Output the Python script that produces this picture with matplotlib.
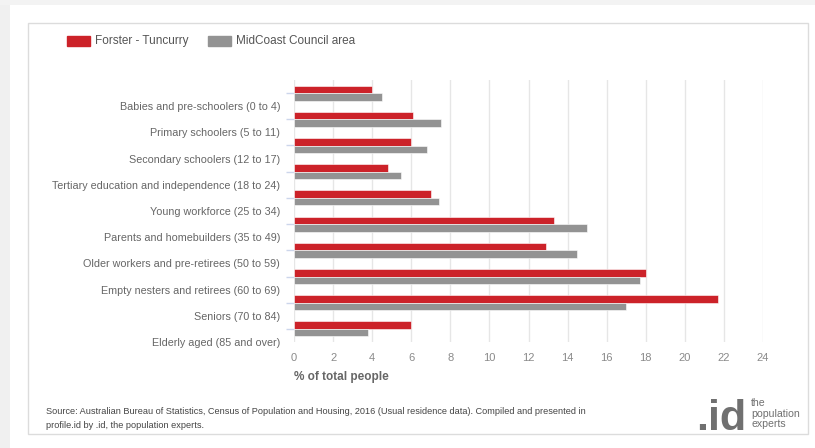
import matplotlib
matplotlib.use("Agg")
import matplotlib.pyplot as plt
from matplotlib.patches import Rectangle
import numpy as np

# ===== data =====
categories = [
    "Babies and pre-schoolers (0 to 4)",
    "Primary schoolers (5 to 11)",
    "Secondary schoolers (12 to 17)",
    "Tertiary education and independence (18 to 24)",
    "Young workforce (25 to 34)",
    "Parents and homebuilders (35 to 49)",
    "Older workers and pre-retirees (50 to 59)",
    "Empty nesters and retirees (60 to 69)",
    "Seniors (70 to 84)",
    "Elderly aged (85 and over)",
]
forster = [4.0, 6.1, 6.0, 4.8, 7.0, 13.3, 12.9, 18.0, 21.7, 6.0]
midcoast = [4.5, 7.5, 6.8, 5.5, 7.4, 15.0, 14.5, 17.7, 17.0, 3.8]
series_names = ["Forster - Tuncurry", "MidCoast Council area"]
x_ticks = list(range(0, 25, 2))

RED = "#cc2229"
GREY = "#939393"
plt.rcParams['font.family'] = ['Liberation Sans', 'DejaVu Sans']

W, H = 815, 448
fig = plt.figure(figsize=(W / 100, H / 100), dpi=100)
fig.patch.set_facecolor("white")

# card frame / shadow (behind the axes)
fig.add_artist(Rectangle((0, 0), 10 / W, 1 - 5 / H, transform=fig.transFigure,
                         facecolor="#f0f0f0", edgecolor="none", zorder=-5))
fig.add_artist(Rectangle((0, 1 - 5 / H), 1, 5 / H, transform=fig.transFigure,
                         facecolor="#f3f3f3", edgecolor="none", zorder=-5))
fig.add_artist(Rectangle((28 / W, 1 - 434 / H), (808 - 28) / W, (434 - 23) / H,
                         transform=fig.transFigure, facecolor="none",
                         edgecolor="#dcdcdc", linewidth=1, zorder=-4))

ax = fig.add_axes([294 / W, 1 - 342 / H, (763 - 294) / W, (342 - 80) / H])
ax.set_facecolor("none")
y = np.arange(len(categories))
h = 0.29
ax.barh(y - h / 2, forster, height=h, color=RED, edgecolor="white", linewidth=0.4, zorder=3)
ax.barh(y + h / 2, midcoast, height=h, color=GREY, edgecolor="white", linewidth=0.4, zorder=3)

ax.set_xlim(0, 24)
ax.set_ylim(len(categories) - 0.5, -0.5)
ax.set_xticks(x_ticks)
ax.set_xticklabels([str(v) for v in x_ticks])
ax.grid(axis="x", color="#e6e6e6", linewidth=1, zorder=0)
ax.set_axisbelow(True)
ax.tick_params(axis="x", length=0, labelsize=8, labelcolor="#8a8a8a", pad=8)

# category ticks at bar centres, labels shifted half a band down
ax.set_yticks(y)
ax.set_yticklabels([])
ax.set_yticks(y + 0.5, minor=True)
ax.set_yticklabels(categories, minor=True)
ax.tick_params(axis="y", which="major", length=6, color="#ccd6eb", width=1)
ax.tick_params(axis="y", which="minor", length=0, labelsize=7.75,
               labelcolor="#666666", pad=10)
for s in ax.spines.values():
    s.set_visible(False)

ax.set_xlabel("% of total people", fontsize=8.5, fontweight="bold",
              color="#666666", loc="left", labelpad=6)

# legend
fig.add_artist(Rectangle((67 / W, 1 - 46 / H), 23 / W, 10 / H,
                         transform=fig.transFigure, color=RED))
fig.text(95 / W, 1 - 41 / H, series_names[0], fontsize=8.5, color="#555555", va="center")
fig.add_artist(Rectangle((208 / W, 1 - 46 / H), 23 / W, 10 / H,
                         transform=fig.transFigure, color=GREY))
fig.text(236 / W, 1 - 41 / H, series_names[1], fontsize=8.5, color="#555555", va="center")

# source
fig.text(46 / W, 1 - 412 / H,
         "Source: Australian Bureau of Statistics, Census of Population and Housing, 2016 "
         "(Usual residence data). Compiled and presented in",
         fontsize=6.6, color="#444444", va="center")
fig.text(46 / W, 1 - 425 / H, "profile.id by .id, the population experts.",
         fontsize=6.6, color="#444444", va="center")

# logo
fig.text(746 / W, 1 - 430 / H, ".id", fontsize=31, fontweight="bold",
         color="#707070", ha="right", va="baseline")
for i, w in enumerate(["the", "population", "experts"]):
    fig.text(751 / W, 1 - (403 + i * 10.5) / H, w, fontsize=7.6,
             color="#707070", va="center")

fig.savefig("out.png", dpi=100)
